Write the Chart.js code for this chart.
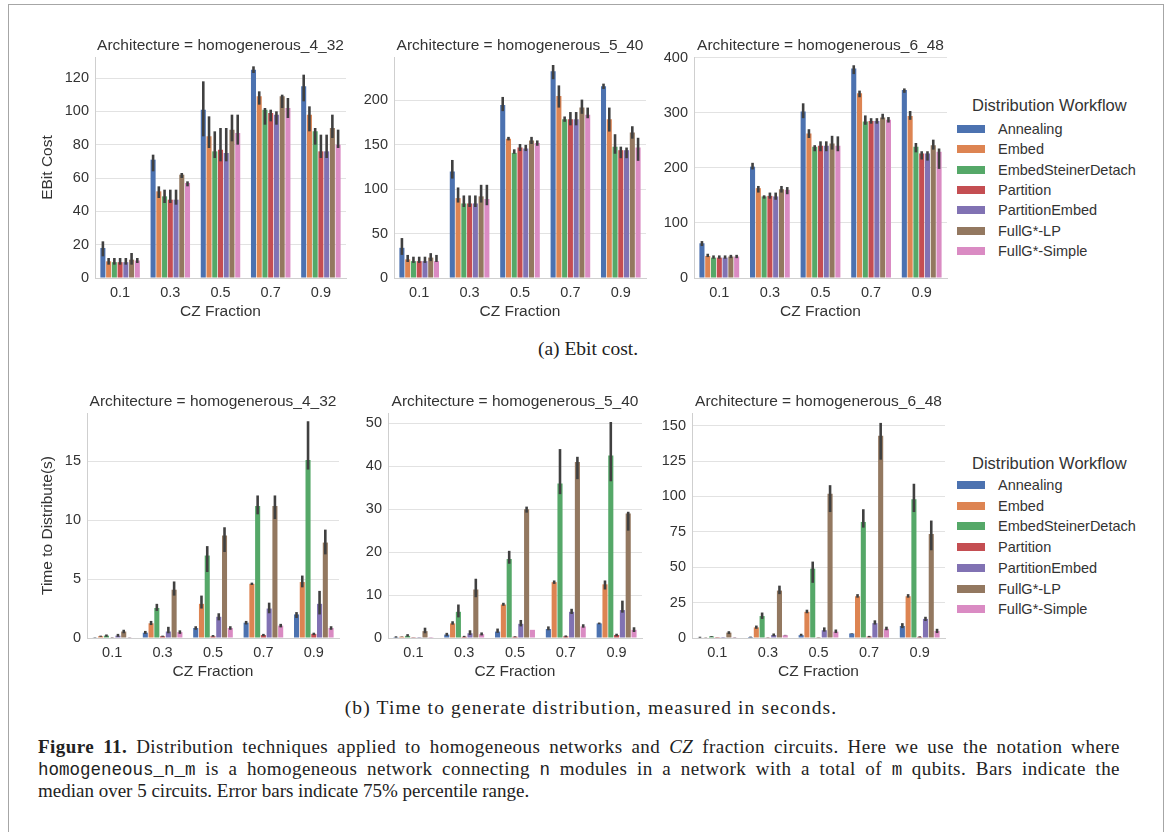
<!DOCTYPE html>
<html><head><meta charset="utf-8">
<script src="https://cdn.jsdelivr.net/npm/chart.js@4/dist/chart.umd.min.js"></script>
<style>
body{margin:0;background:#fff;}
#fig{position:relative;width:1171px;height:832px;overflow:hidden;background:#fff;font-family:"Liberation Sans",Arial,sans-serif;}
#frame{position:absolute;left:8px;top:4px;width:1156px;height:860px;border:1px solid #a6a6a6;box-sizing:border-box;}
canvas{position:absolute;}
.legtitle{position:absolute;left:972px;height:20px;line-height:20px;font-size:16.5px;color:#333;white-space:nowrap;}
.legrow{position:absolute;left:957px;height:20px;line-height:20px;font-size:14.5px;color:#333;white-space:nowrap;}
.legrow span.sw{position:absolute;left:0;top:6px;width:28px;height:8px;}
.legrow span.tx{position:absolute;left:41px;top:0;}
.sub{position:absolute;left:0;width:1176px;text-align:center;font-family:"Liberation Serif","Times New Roman",serif;font-size:19.5px;color:#222;white-space:nowrap;}
.cap{position:absolute;left:38px;font-family:"Liberation Serif","Times New Roman",serif;font-size:19px;color:#222;white-space:nowrap;line-height:22px;}
.just{width:1082px;text-align:justify;text-align-last:justify;white-space:normal;letter-spacing:0.45px;}
.mono{font-family:"Liberation Mono","DejaVu Sans Mono",monospace;font-size:17.5px;letter-spacing:0;}
</style>
</head><body>
<div id="fig">
<div id="frame"></div>
<canvas id="c1"></canvas><canvas id="c2"></canvas><canvas id="c3"></canvas>
<canvas id="c4"></canvas><canvas id="c5"></canvas><canvas id="c6"></canvas>
<div id="legends"></div>
<div class="sub" style="top:338px">(a) Ebit cost.</div>
<div class="sub" style="top:697px;left:3px;letter-spacing:1.15px">(b) Time to generate distribution, measured in seconds.</div>
<div class="cap just" style="top:736px"><b>Figure 11.</b> Distribution techniques applied to homogeneous networks and <i>CZ</i> fraction circuits. Here we use the notation where</div>
<div class="cap just" style="top:758px"><span class="mono">homogeneous_n_m</span> is a homogeneous network connecting <span class="mono">n</span> modules in a network with a total of <span class="mono">m</span> qubits. Bars indicate the</div>
<div class="cap" style="top:780px">median over 5 circuits. Error bars indicate 75% percentile range.</div>
</div>
<script>
const categories = ['0.1','0.3','0.5','0.7','0.9'];
const workflows = ['Annealing','Embed','EmbedSteinerDetach','Partition','PartitionEmbed','FullG*-LP','FullG*-Simple'];
const workflowColors = ['#4C72B0','#DD8452','#55A868','#C44E52','#8172B3','#937860','#DA8BC3'];

// ---- EBit cost, homogenerous_4_32 (rows = workflows, cols = CZ fraction)
const ebit_4_32_median = [[18,71,101,125,115],[10,52,85,109,98],[9.5,49,76,101,88],[9.5,47,77,99,76],[9.5,47,75,98,76],[11,62,89,109,90],[10.5,57,87,102,80]];
const ebit_4_32_low    = [[13,64,85,123,106],[8,48,78,104,88],[8,45,72,92,80],[8,45,70,94,72],[8,44,70,92,72],[8,60,82,102,84],[9,55,80,96,78]];
const ebit_4_32_high   = [[22,74,118,127,122],[12,55,97,112,103],[12,53,88,102,90],[12,53,90,101,86],[12,53,90,100,86],[15,63,98,110,98],[12,58,98,108,89]];
// ---- EBit cost, homogenerous_5_40
const ebit_5_40_median = [[34,120,195,233,216],[21,90,157,205,179],[19,84,141,179,148],[19,84,147,179,144],[19,84,146,179,144],[23,92,155,192,164],[19,89,152,184,147]];
const ebit_5_40_low    = [[26,112,188,224,213],[18,85,155,192,165],[17,80,140,176,140],[17,80,143,172,135],[17,80,143,172,135],[19,85,151,185,157],[18,82,149,180,132]];
const ebit_5_40_high   = [[45,133,204,240,219],[26,102,159,217,192],[24,93,145,182,162],[24,93,151,187,148],[24,93,150,187,147],[28,105,159,201,171],[26,105,155,192,158]];
// ---- EBit cost, homogenerous_6_48
const ebit_6_48_median = [[63,202,302,380,341],[40,163,262,335,294],[37,148,238,284,238],[37,149,240,285,226],[37,148,240,285,226],[39,161,244,291,241],[39,160,240,287,229]];
const ebit_6_48_low    = [[58,197,290,370,336],[38,155,254,328,287],[35,144,230,278,228],[35,144,230,280,215],[35,142,230,280,213],[36,155,233,288,233],[36,152,230,282,198]];
const ebit_6_48_high   = [[67,209,317,386,344],[44,167,270,340,303],[41,150,241,295,245],[41,155,248,290,230],[41,155,248,290,230],[42,167,258,298,251],[42,165,257,292,235]];
// ---- Time to distribute (s), homogenerous_4_32
const time_4_32_median = [[0.05,0.45,0.85,1.3,2.0],[0.15,1.25,2.9,4.6,4.75],[0.2,2.55,7.0,11.2,15.1],[0.05,0.15,0.15,0.25,0.35],[0.2,0.55,1.8,2.5,2.9],[0.55,4.1,8.7,11.2,8.1],[0.03,0.5,0.85,1.05,0.85]];
const time_4_32_low    = [[0.04,0.35,0.7,1.15,1.7],[0.1,1.1,2.5,4.5,4.3],[0.1,2.3,5.6,10.5,14.3],[0.04,0.1,0.1,0.15,0.25],[0.1,0.4,1.5,2.1,2.0],[0.4,3.6,7.3,10.1,7.1],[0.02,0.35,0.7,0.9,0.7]];
const time_4_32_high   = [[0.07,0.6,1.0,1.45,2.2],[0.2,1.45,3.6,4.7,5.3],[0.3,2.9,7.8,12.1,18.4],[0.07,0.2,0.25,0.35,0.45],[0.35,0.95,2.1,3.0,4.0],[0.7,4.8,9.4,12.1,9.2],[0.04,0.65,1.0,1.2,1.0]];
// ---- Time to distribute (s), homogenerous_5_40
const time_5_40_median = [[0.2,0.8,1.5,2.1,3.4],[0.3,3.4,7.8,13,12.5],[0.5,6.1,18.4,36,42.5],[0.05,0.3,0.3,0.4,0.7],[0.05,1.1,3.3,6.1,6.5],[1.6,11.3,30,41,29],[0.03,0.9,1.9,2.7,1.9]];
const time_5_40_low    = [[0.1,0.5,1.2,1.8,3.2],[0.25,3.1,7.5,12.6,11.3],[0.3,4.8,17.3,33.5,36.5],[0.03,0.2,0.2,0.2,0.4],[0.03,0.7,2.7,5.6,5.9],[1.1,9.5,29.2,37,25],[0.02,0.6,1.9,2.4,1.4]];
const time_5_40_high   = [[0.4,1.2,2.2,2.7,3.6],[0.35,3.9,8.2,13.4,13.4],[0.9,7.8,20.3,44,50.3],[0.07,0.5,0.4,0.6,1.0],[0.07,1.8,4.2,6.8,8.7],[2.4,13.8,30.6,42.2,29.4],[0.04,1.3,1.9,3.2,2.5]];
// ---- Time to distribute (s), homogenerous_6_48
const time_6_48_median = [[0.4,0.7,2.0,3.2,8.5],[0.3,7.5,18.5,29.5,29.5],[1.1,15.5,49,82,98],[0.1,0.5,0.5,1.0,0.8],[0.1,2.1,5.5,10.5,13.5],[3.8,33.5,102,143,73.5],[0.2,2.0,4.5,6.5,5.0]];
const time_6_48_low    = [[0.2,0.5,1.5,3.0,7],[0.2,6.5,17.5,28.5,28.5],[0.8,13.5,39,78,89],[0.05,0.4,0.4,0.6,0.5],[0.05,1.3,4.5,9.5,12],[2.8,31,89,126,62],[0.1,1.9,3.5,5.5,3.5]];
const time_6_48_high   = [[0.9,1.0,3.0,3.4,10.5],[0.4,8.8,20,31,31],[1.4,18,54,91,109],[0.15,0.6,0.6,1.5,1.2],[0.15,3.2,7.5,12.5,15],[4.8,37,108,152,83],[0.3,2.2,6,8,6.5]];

// ---- tick labels
const ebitTicks_4_32 = [0,20,40,60,80,100,120];
const ebitTicks_5_40 = [0,50,100,150,200];
const ebitTicks_6_48 = [0,100,200,300,400];
const timeTicks_4_32 = [0,5,10,15];
const timeTicks_5_40 = [0,10,20,30,40,50];
const timeTicks_6_48 = [0,25,50,75,100,125,150];

const FONT = '"Liberation Sans", Arial, sans-serif';
const TXT = '#333';

const errorBarPlugin = {
  id: 'errbars',
  afterDatasetsDraw(chart) {
    const ctx = chart.ctx, ys = chart.scales.y;
    ctx.save();
    ctx.strokeStyle = '#404040';
    ctx.lineWidth = 2.6;
    chart.data.datasets.forEach((ds, i) => {
      chart.getDatasetMeta(i).data.forEach((el, j) => {
        ctx.beginPath();
        ctx.moveTo(el.x, ys.getPixelForValue(ds.errLow[j]));
        ctx.lineTo(el.x, ys.getPixelForValue(ds.errHigh[j]));
        ctx.stroke();
      });
    });
    ctx.restore();
  }
};

function panel(id, o) {
  const cv = document.getElementById(id);
  const XH = 44;
  const cl = o.left - o.yW, ct = o.top - 27;
  const w = o.right + 4 - cl, h = o.bottom + XH - ct;
  cv.width = w; cv.height = h;
  cv.style.left = cl + 'px'; cv.style.top = ct + 'px';
  cv.style.width = w + 'px'; cv.style.height = h + 'px';
  new Chart(cv, {
    type: 'bar',
    data: {
      labels: categories,
      datasets: workflows.map((wf, i) => ({
        label: wf, data: o.med[i], errLow: o.low[i], errHigh: o.high[i],
        backgroundColor: workflowColors[i], borderWidth: 0,
        categoryPercentage: 0.8, barPercentage: 0.88
      }))
    },
    options: {
      responsive: false, animation: false, devicePixelRatio: 1,
      layout: { padding: { left: 0, right: 4, top: 0, bottom: 0 } },
      plugins: {
        legend: { display: false }, tooltip: { enabled: false },
        title: { display: true, text: o.title, fullSize: false, color: TXT,
                 font: { family: FONT, size: 15.5, weight: 'normal' }, padding: { top: 6, bottom: 2.4 } }
      },
      scales: {
        x: {
          grid: { display: false, drawTicks: false },
          border: { display: true, color: '#cfcfcf', width: 1 },
          ticks: { color: TXT, font: { family: FONT, size: 14.5 }, padding: 6, maxRotation: 0 },
          title: { display: true, text: 'CZ Fraction', color: TXT, font: { family: FONT, size: 15.5 }, padding: { top: 0, bottom: 1 } },
          afterFit: s => { s.height = XH; }
        },
        y: {
          min: 0, max: o.max,
          grid: { color: '#e2e2e2', drawTicks: false, lineWidth: 1 },
          border: { display: true, color: '#cfcfcf', width: 1 },
          ticks: { color: TXT, font: { family: FONT, size: 14.5 }, padding: 6 },
          afterBuildTicks: s => { s.ticks = o.ticks.map(v => ({ value: v })); },
          title: { display: !!o.yTitle, text: o.yTitle || '', color: TXT, font: { family: FONT, size: 15.5 }, padding: { top: 3, bottom: 0 } },
          afterFit: s => { s.width = o.yW; }
        }
      }
    },
    plugins: [errorBarPlugin]
  });
}

panel('c1', { left: 95, right: 346, top: 57, bottom: 278, yW: 60, yTitle: 'EBit Cost', title: 'Architecture = homogenerous_4_32', max: 132.6, ticks: ebitTicks_4_32, med: ebit_4_32_median, low: ebit_4_32_low, high: ebit_4_32_high });
panel('c2', { left: 394, right: 646, top: 57, bottom: 278, yW: 45, title: 'Architecture = homogenerous_5_40', max: 249, ticks: ebitTicks_5_40, med: ebit_5_40_median, low: ebit_5_40_low, high: ebit_5_40_high });
panel('c3', { left: 694, right: 947, top: 57, bottom: 278, yW: 45, title: 'Architecture = homogenerous_6_48', max: 401, ticks: ebitTicks_6_48, med: ebit_6_48_median, low: ebit_6_48_low, high: ebit_6_48_high });
panel('c4', { left: 87, right: 339, top: 413, bottom: 638, yW: 52, yTitle: 'Time to Distribute(s)', title: 'Architecture = homogenerous_4_32', max: 19.1, ticks: timeTicks_4_32, med: time_4_32_median, low: time_4_32_low, high: time_4_32_high });
panel('c5', { left: 388, right: 642, top: 413, bottom: 638, yW: 45, title: 'Architecture = homogenerous_5_40', max: 52.4, ticks: timeTicks_5_40, med: time_5_40_median, low: time_5_40_low, high: time_5_40_high });
panel('c6', { left: 692, right: 945, top: 413, bottom: 638, yW: 45, title: 'Architecture = homogenerous_6_48', max: 159, ticks: timeTicks_6_48, med: time_6_48_median, low: time_6_48_low, high: time_6_48_high });

// legends (one per row of panels)
function legend(titleY, firstY, step) {
  const host = document.getElementById('legends');
  const t = document.createElement('div');
  t.className = 'legtitle'; t.style.top = (titleY - 10) + 'px'; t.textContent = 'Distribution Workflow';
  host.appendChild(t);
  workflows.forEach((wf, i) => {
    const r = document.createElement('div');
    r.className = 'legrow'; r.style.top = (firstY + i * step - 10) + 'px';
    const sw = document.createElement('span'); sw.className = 'sw'; sw.style.background = workflowColors[i];
    const tx = document.createElement('span'); tx.className = 'tx'; tx.textContent = wf;
    r.appendChild(sw); r.appendChild(tx); host.appendChild(r);
  });
}
legend(105, 129, 20.3);
legend(463, 485, 20.7);
</script>
</body></html>
